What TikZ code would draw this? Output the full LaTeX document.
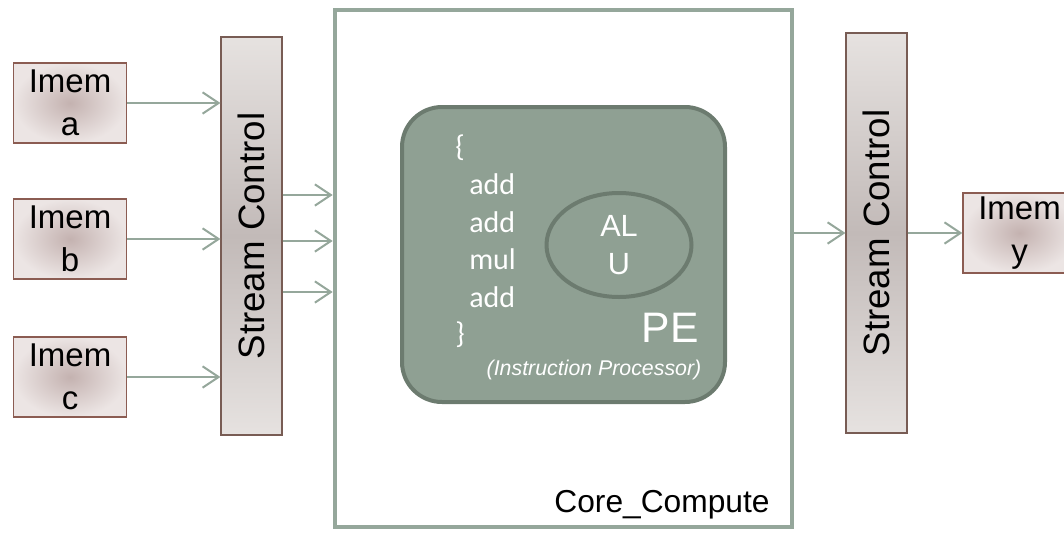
\documentclass[tikz,border=0pt]{standalone}
\usepackage{fontspec}
\setmainfont{Liberation Sans}
\newfontfamily\codefont{Carlito}
\usetikzlibrary{arrows.meta,shapes.geometric}

\definecolor{flowgreen}{RGB}{149,167,155}
\definecolor{pefill}{RGB}{143,160,147}
\definecolor{peline}{RGB}{108,123,111}
\definecolor{memline}{RGB}{139,92,82}
\definecolor{memin}{RGB}{196,178,176}
\definecolor{memout}{RGB}{236,229,228}
\definecolor{strline}{RGB}{120,92,84}
\definecolor{strlight}{RGB}{230,226,224}
\definecolor{strdark}{RGB}{194,186,184}

\begin{document}
\begin{tikzpicture}[x=0.75pt,y=-0.75pt,
  mem/.style={draw=memline,line width=1.1pt,inner color=memin,outer color=memout,
    minimum width=84.75pt,minimum height=60pt,inner sep=0pt,align=center,
    font=\fontsize{24.75}{32}\selectfont},
  strm/.style={draw=strline,line width=0.9pt,top color=strlight,bottom color=strlight,
    middle color=strdark,minimum width=45.75pt,minimum height=#1,inner sep=0pt},
  strtext/.style={rotate=90,inner sep=0pt,font=\fontsize{27.5}{32}\selectfont},
  flow/.style={draw=flowgreen,line width=1.5pt,
    -{Straight Barb[length=12pt,width=16pt]}},
  code/.style={anchor=west,inner sep=0pt,text=white,font=\codefont\fontsize{22.5}{27}\selectfont}]

\useasboundingbox (0,0) rectangle (1064,536);
\clip (0,0) rectangle (1064,536);

\node[mem] (ma) at (70,103) {Imem\\a};
\node[mem] (mb) at (70,239) {Imem\\b};
\node[mem] (mc) at (70,377) {Imem\\c};
\node[strm=298.5pt] (sl) at (251.5,236) {};
\node[strtext] (slt) at (sl) {Stream Control};

\node[draw=flowgreen,line width=3.5pt,minimum width=342.75pt,minimum height=387.75pt,
  inner sep=0pt] (core) at (563.5,268.5) {};
\node[inner sep=0pt,font=\fontsize{23.8}{28}\selectfont] (corelbl) at (662,505) {Core\_Compute};

\node[draw=peline,fill=pefill,line width=3pt,rounded corners=30pt,
  minimum width=242.25pt,minimum height=221.25pt,inner sep=0pt] (pe) at (563.5,254.5) {};
\node[ellipse,draw=peline,line width=3pt,minimum width=108.75pt,minimum height=78pt,
  inner sep=0pt,text=white,align=center,font=\fontsize{23}{28}\selectfont] (alu) at (619,245) {AL\\U};

\node[code] (lb) at (455,148) {\{};
\foreach \op [count=\i] in {add,add,mul,add}
  \node[code] (op\i) at (469,147+37.5*\i) {\op};
\node[code] (rb) at (455,335) {\}};

\node[inner sep=0pt,text=white,font=\fontsize{32}{36}\selectfont] (pelbl) at (670,328) {PE};
\node[inner sep=0pt,text=white,font=\itshape\fontsize{16}{19}\selectfont] (instr) at (594,370)
  {(Instruction Processor)};

\node[strm=300pt] (sr) at (876.5,233) {};
\node[strtext] (srt) at (sr) {Stream Control};
\node[mem] (my) at (1019.5,233) {Imem\\y};

\foreach \m in {ma,mb,mc}
  \draw[flow] (\m.east) -- (\m.east -| sl.west);
\foreach \y in {195,241,292}
  \draw[flow] (sl.east |- 0,\y) -- (core.west |- 0,\y);
\draw[flow] (core.east |- sr.west) -- (sr.west);
\draw[flow] (sr.east) -- (my.west);
\end{tikzpicture}
\end{document}
